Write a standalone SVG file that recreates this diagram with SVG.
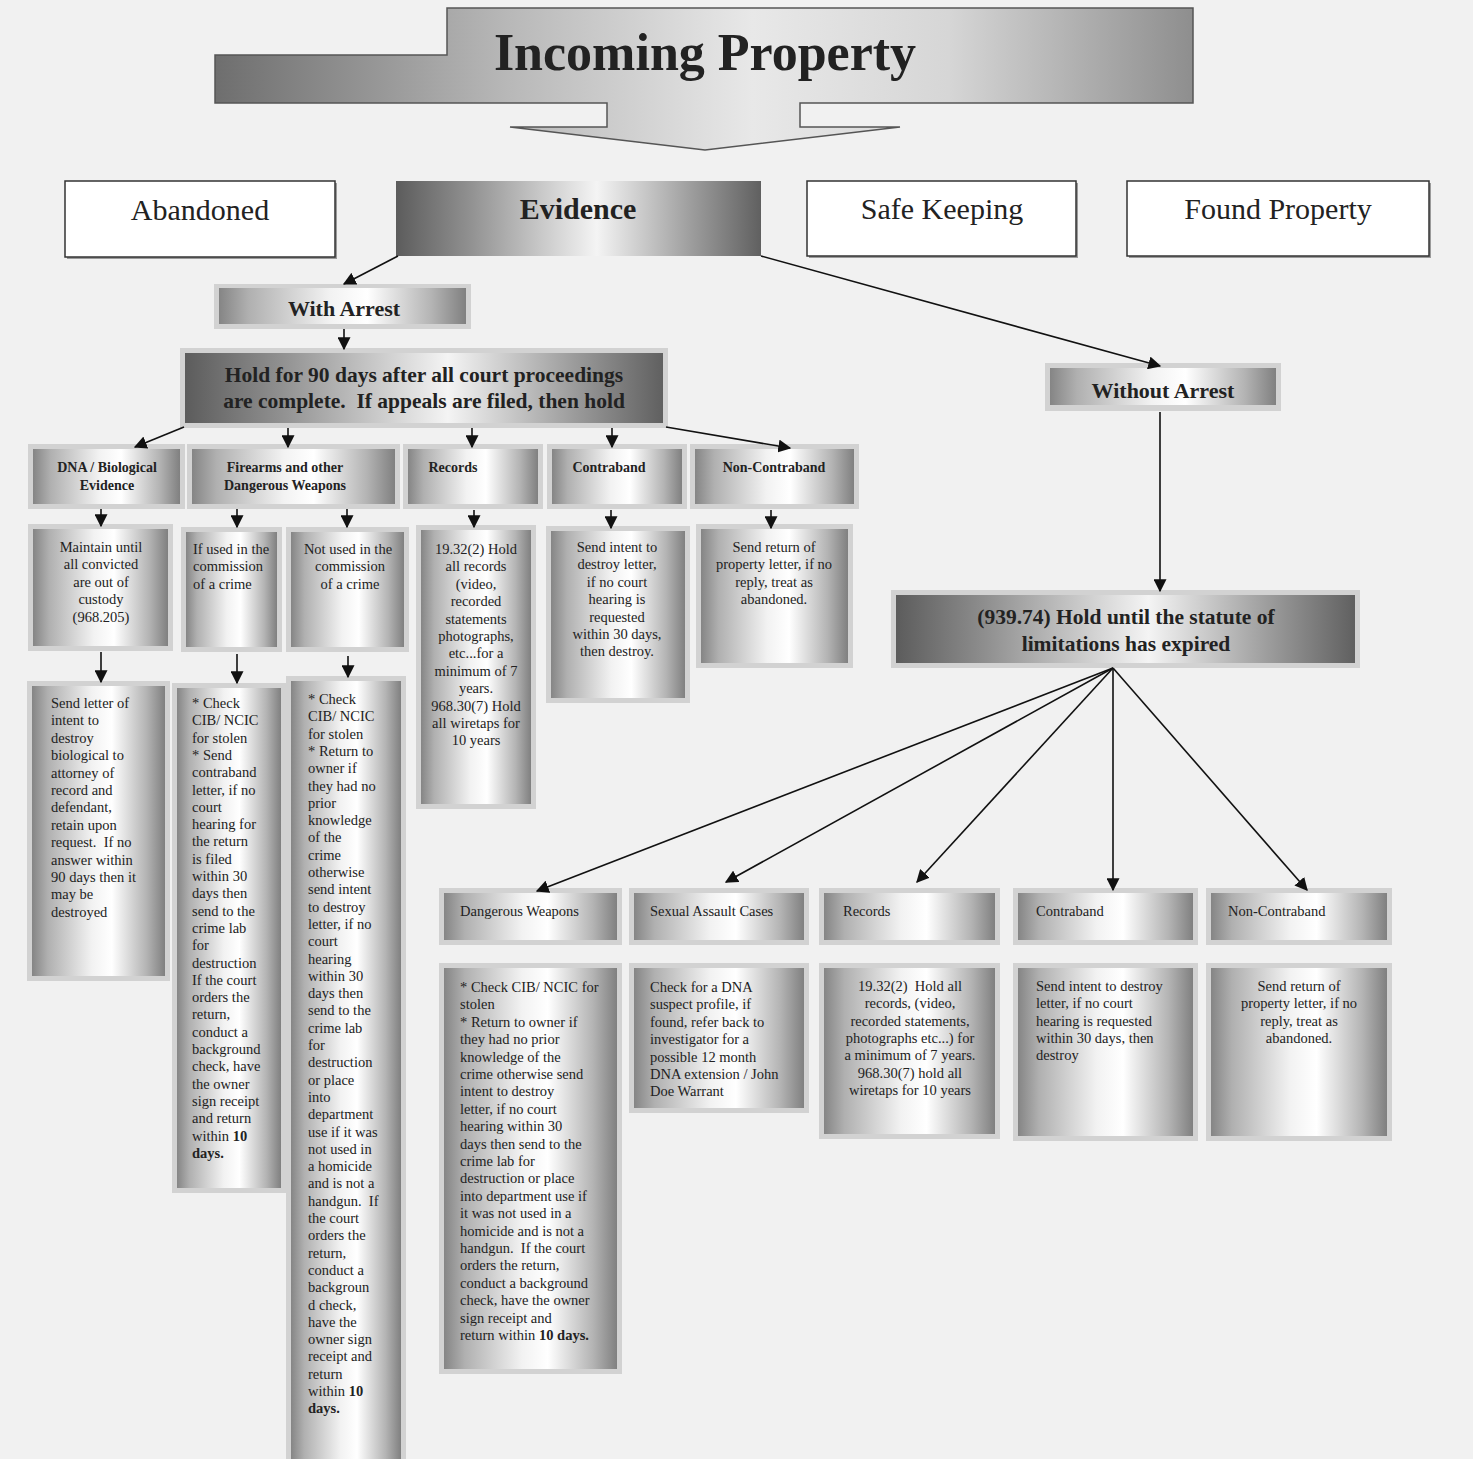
<svg xmlns="http://www.w3.org/2000/svg" width="1473" height="1459" viewBox="0 0 1473 1459">
<defs>
<linearGradient id="gTitle" gradientUnits="userSpaceOnUse" x1="215" y1="0" x2="1193" y2="0">
<stop offset="0" stop-color="#6e6e6e"/><stop offset="0.3" stop-color="#b8b8b8"/><stop offset="0.55" stop-color="#e8e8e8"/><stop offset="0.75" stop-color="#d6d6d6"/><stop offset="1" stop-color="#8e8e8e"/>
</linearGradient>
<linearGradient id="gDark" x1="0" y1="0" x2="1" y2="0">
<stop offset="0" stop-color="#5c5c5c"/><stop offset="0.2" stop-color="#909090"/><stop offset="0.55" stop-color="#f4f4f4"/><stop offset="0.8" stop-color="#a0a0a0"/><stop offset="1" stop-color="#606060"/>
</linearGradient>
<linearGradient id="gBox" x1="0" y1="0" x2="1" y2="0">
<stop offset="0" stop-color="#858585"/><stop offset="0.12" stop-color="#b0b0b0"/><stop offset="0.45" stop-color="#f2f2f2"/><stop offset="0.6" stop-color="#ffffff"/><stop offset="0.86" stop-color="#b4b4b4"/><stop offset="1" stop-color="#808080"/>
</linearGradient>
<marker id="ah" viewBox="0 0 10 10" refX="9" refY="5" markerWidth="13" markerHeight="13" markerUnits="userSpaceOnUse" orient="auto">
<path d="M0,0 L10,5 L0,10 z" fill="#111"/>
</marker>
<style>
.fr{fill:#d2d2d2}
.in{fill:url(#gBox)}
.dk{fill:url(#gDark)}
.wb{fill:#fff;stroke:#333;stroke-width:1.5}
.sh{fill:#9a9a9a}
text{font-family:"Liberation Serif","DejaVu Serif",serif;fill:#222}
.b{font-weight:bold}
.c{text-anchor:middle}
.s{font-size:14.5px}
.cat{font-size:14px;font-weight:bold}
.big{font-size:21.5px;font-weight:bold}
.top{font-size:30px}
.conn line{stroke:#111;stroke-width:1.6;marker-end:url(#ah)}
</style>
</defs>
<rect x="0" y="0" width="1473" height="1459" fill="#f1f1f1"/>

<g id="title">
<polygon points="447,8 1193,8 1193,103 800,103 800,127 900,127 705,150 510,127 607,127 607,103 215,103 215,55 447,55" fill="url(#gTitle)" stroke="#555" stroke-width="1.5"/>
<text x="705" y="70" class="c b" font-size="52">Incoming Property</text>
</g>

<g id="abandoned">
<rect class="sh" x="67" y="183" width="270" height="76"/>
<rect class="wb" x="65" y="181" width="270" height="76"/>
<text x="200" y="220" class="c top">Abandoned</text>
</g>
<g id="evidence">
<rect class="dk" x="396" y="181" width="365" height="75"/>
<text x="578" y="219" class="c b top">Evidence</text>
</g>
<g id="safe-keeping">
<rect class="sh" x="809" y="183" width="269" height="75"/>
<rect class="wb" x="807" y="181" width="269" height="75"/>
<text x="942" y="219" class="c top">Safe Keeping</text>
</g>
<g id="found-property">
<rect class="sh" x="1129" y="183" width="302" height="75"/>
<rect class="wb" x="1127" y="181" width="302" height="75"/>
<text x="1278" y="219" class="c top">Found Property</text>
</g>

<g id="with-arrest">
<rect class="fr" x="214" y="284" width="257" height="45"/>
<rect class="in" x="219" y="288" width="247" height="36"/>
<text x="344" y="316" class="c" font-size="22" font-weight="bold">With Arrest</text>
</g>
<g id="without-arrest">
<rect class="fr" x="1045" y="363" width="236" height="48"/>
<rect class="in" x="1050" y="368" width="226" height="37"/>
<text x="1163" y="398" class="c" font-size="22" font-weight="bold">Without Arrest</text>
</g>

<g id="hold-90">
<rect class="fr" x="180" y="348" width="488" height="80"/>
<rect class="dk" x="185" y="353" width="478" height="70"/>
<text class="c big"><tspan x="424" y="382">Hold for 90 days after all court proceedings</tspan><tspan x="424" y="408">are complete.&#160; If appeals are filed, then hold</tspan></text>
</g>

<g id="hold-939">
<rect class="fr" x="891" y="590" width="469" height="78"/>
<rect class="dk" x="896" y="595" width="459" height="68"/>
<text class="c big"><tspan x="1126" y="624">(939.74) Hold until the statute of</tspan><tspan x="1126" y="651">limitations has expired</tspan></text>
</g>

<g id="cat-dna">
<rect class="fr" x="28" y="444" width="157" height="65"/>
<rect class="in" x="33" y="449" width="147" height="55"/>
<text class="c cat"><tspan x="107" y="472">DNA / Biological</tspan><tspan x="107" y="490">Evidence</tspan></text>
</g>
<g id="cat-firearms">
<rect class="fr" x="187" y="444" width="213" height="65"/>
<rect class="in" x="192" y="449" width="203" height="55"/>
<text class="c cat"><tspan x="285" y="472">Firearms and other</tspan><tspan x="285" y="490">Dangerous Weapons</tspan></text>
</g>
<g id="cat-records">
<rect class="fr" x="403" y="444" width="140" height="65"/>
<rect class="in" x="408" y="449" width="130" height="55"/>
<text x="453" y="472" class="c cat">Records</text>
</g>
<g id="cat-contraband">
<rect class="fr" x="547" y="444" width="140" height="65"/>
<rect class="in" x="552" y="449" width="130" height="55"/>
<text x="609" y="472" class="c cat">Contraband</text>
</g>
<g id="cat-noncontraband">
<rect class="fr" x="690" y="444" width="169" height="65"/>
<rect class="in" x="695" y="449" width="159" height="55"/>
<text x="774" y="472" class="c cat">Non-Contraband</text>
</g>

<g id="dna-maintain">
<rect class="fr" x="28" y="524" width="145" height="127"/>
<rect class="in" x="33" y="529" width="135" height="117"/>
<text class="c s"><tspan x="101" y="552">Maintain until</tspan><tspan x="101" y="569.4">all convicted</tspan><tspan x="101" y="586.8">are out of</tspan><tspan x="101" y="604.2">custody</tspan><tspan x="101" y="621.6">(968.205)</tspan></text>
</g>
<g id="fire-used">
<rect class="fr" x="181" y="527" width="101" height="125"/>
<rect class="in" x="186" y="532" width="91" height="115"/>
<text class="s"><tspan x="193" y="554">If used in the</tspan><tspan x="193" y="571.4">commission</tspan><tspan x="193" y="588.8">of a crime</tspan></text>
</g>
<g id="fire-notused">
<rect class="fr" x="286" y="527" width="123" height="125"/>
<rect class="in" x="291" y="532" width="113" height="115"/>
<text class="c s"><tspan x="348" y="554">Not used in the</tspan><tspan x="350" y="571.4">commission</tspan><tspan x="350" y="588.8">of a crime</tspan></text>
</g>
<g id="records-detail">
<rect class="fr" x="416" y="525" width="120" height="284"/>
<rect class="in" x="421" y="530" width="110" height="274"/>
<text class="c s"><tspan x="476" y="554">19.32(2) Hold</tspan><tspan x="476" y="571.4">all records</tspan><tspan x="476" y="588.8">(video,</tspan><tspan x="476" y="606.2">recorded</tspan><tspan x="476" y="623.6">statements</tspan><tspan x="476" y="641">photographs,</tspan><tspan x="476" y="658.4">etc...for a</tspan><tspan x="476" y="675.8">minimum of 7</tspan><tspan x="476" y="693.2">years.</tspan><tspan x="476" y="710.6">968.30(7) Hold</tspan><tspan x="476" y="728">all wiretaps for</tspan><tspan x="476" y="745.4">10 years</tspan></text>
</g>
<g id="contraband-detail">
<rect class="fr" x="546" y="526" width="144" height="177"/>
<rect class="in" x="551" y="531" width="134" height="167"/>
<text class="c s"><tspan x="617" y="552">Send intent to</tspan><tspan x="617" y="569.4">destroy letter,</tspan><tspan x="617" y="586.8">if no court</tspan><tspan x="617" y="604.2">hearing is</tspan><tspan x="617" y="621.6">requested</tspan><tspan x="617" y="639">within 30 days,</tspan><tspan x="617" y="656.4">then destroy.</tspan></text>
</g>
<g id="noncontraband-detail">
<rect class="fr" x="696" y="524" width="157" height="144"/>
<rect class="in" x="701" y="529" width="147" height="134"/>
<text class="c s"><tspan x="774" y="552">Send return of</tspan><tspan x="774" y="569.4">property letter, if no</tspan><tspan x="774" y="586.8">reply, treat as</tspan><tspan x="774" y="604.2">abandoned.</tspan></text>
</g>

<g id="dna-letter">
<rect class="fr" x="27" y="681" width="143" height="300"/>
<rect class="in" x="32" y="686" width="133" height="290"/>
<text class="s"><tspan x="51" y="708">Send letter of</tspan><tspan x="51" y="725.4">intent to</tspan><tspan x="51" y="742.8">destroy</tspan><tspan x="51" y="760.2">biological to</tspan><tspan x="51" y="777.6">attorney of</tspan><tspan x="51" y="795">record and</tspan><tspan x="51" y="812.4">defendant,</tspan><tspan x="51" y="829.8">retain upon</tspan><tspan x="51" y="847.2">request.&#160; If no</tspan><tspan x="51" y="864.6">answer within</tspan><tspan x="51" y="882">90 days then it</tspan><tspan x="51" y="899.4">may be</tspan><tspan x="51" y="916.8">destroyed</tspan></text>
</g>
<g id="fire-used-steps">
<rect class="fr" x="172" y="683" width="114" height="510"/>
<rect class="in" x="177" y="688" width="104" height="500"/>
<text class="s"><tspan x="192" y="708">* Check</tspan><tspan x="192" y="725.3">CIB/ NCIC</tspan><tspan x="192" y="742.6">for stolen</tspan><tspan x="192" y="759.9">* Send</tspan><tspan x="192" y="777.2">contraband</tspan><tspan x="192" y="794.5">letter, if no</tspan><tspan x="192" y="811.8">court</tspan><tspan x="192" y="829.1">hearing for</tspan><tspan x="192" y="846.4">the return</tspan><tspan x="192" y="863.7">is filed</tspan><tspan x="192" y="881">within 30</tspan><tspan x="192" y="898.3">days then</tspan><tspan x="192" y="915.6">send to the</tspan><tspan x="192" y="932.9">crime lab</tspan><tspan x="192" y="950.2">for</tspan><tspan x="192" y="967.5">destruction</tspan><tspan x="192" y="984.8">If the court</tspan><tspan x="192" y="1002.1">orders the</tspan><tspan x="192" y="1019.4">return,</tspan><tspan x="192" y="1036.7">conduct a</tspan><tspan x="192" y="1054">background</tspan><tspan x="192" y="1071.3">check, have</tspan><tspan x="192" y="1088.6">the owner</tspan><tspan x="192" y="1105.9">sign receipt</tspan><tspan x="192" y="1123.2">and return</tspan><tspan x="192" y="1140.5">within <tspan class="b">10</tspan></tspan><tspan x="192" y="1157.8" class="b">days.</tspan></text>
</g>
<g id="fire-notused-steps">
<rect class="fr" x="286" y="676" width="120" height="790"/>
<rect class="in" x="291" y="681" width="110" height="790"/>
<text class="s"><tspan x="308" y="704">* Check</tspan><tspan x="308" y="721.3">CIB/ NCIC</tspan><tspan x="308" y="738.6">for stolen</tspan><tspan x="308" y="755.9">* Return to</tspan><tspan x="308" y="773.2">owner if</tspan><tspan x="308" y="790.5">they had no</tspan><tspan x="308" y="807.8">prior</tspan><tspan x="308" y="825.1">knowledge</tspan><tspan x="308" y="842.4">of the</tspan><tspan x="308" y="859.7">crime</tspan><tspan x="308" y="877">otherwise</tspan><tspan x="308" y="894.3">send intent</tspan><tspan x="308" y="911.6">to destroy</tspan><tspan x="308" y="928.9">letter, if no</tspan><tspan x="308" y="946.2">court</tspan><tspan x="308" y="963.5">hearing</tspan><tspan x="308" y="980.8">within 30</tspan><tspan x="308" y="998.1">days then</tspan><tspan x="308" y="1015.4">send to the</tspan><tspan x="308" y="1032.7">crime lab</tspan><tspan x="308" y="1050">for</tspan><tspan x="308" y="1067.3">destruction</tspan><tspan x="308" y="1084.6">or place</tspan><tspan x="308" y="1101.9">into</tspan><tspan x="308" y="1119.2">department</tspan><tspan x="308" y="1136.5">use if it was</tspan><tspan x="308" y="1153.8">not used in</tspan><tspan x="308" y="1171.1">a homicide</tspan><tspan x="308" y="1188.4">and is not a</tspan><tspan x="308" y="1205.7">handgun.&#160; If</tspan><tspan x="308" y="1223">the court</tspan><tspan x="308" y="1240.3">orders the</tspan><tspan x="308" y="1257.6">return,</tspan><tspan x="308" y="1274.9">conduct a</tspan><tspan x="308" y="1292.2">backgroun</tspan><tspan x="308" y="1309.5">d check,</tspan><tspan x="308" y="1326.8">have the</tspan><tspan x="308" y="1344.1">owner sign</tspan><tspan x="308" y="1361.4">receipt and</tspan><tspan x="308" y="1378.7">return</tspan><tspan x="308" y="1396">within <tspan class="b">10</tspan></tspan><tspan x="308" y="1413.3" class="b">days.</tspan></text>
</g>

<g id="w-cat-weapons">
<rect class="fr" x="439" y="888" width="183" height="57"/>
<rect class="in" x="444" y="893" width="173" height="47"/>
<text x="460" y="916" class="s">Dangerous Weapons</text>
</g>
<g id="w-cat-sexual">
<rect class="fr" x="629" y="888" width="180" height="57"/>
<rect class="in" x="634" y="893" width="170" height="47"/>
<text x="650" y="916" class="s">Sexual Assault Cases</text>
</g>
<g id="w-cat-records">
<rect class="fr" x="819" y="888" width="181" height="57"/>
<rect class="in" x="824" y="893" width="171" height="47"/>
<text x="843" y="916" class="s">Records</text>
</g>
<g id="w-cat-contraband">
<rect class="fr" x="1013" y="888" width="185" height="57"/>
<rect class="in" x="1018" y="893" width="175" height="47"/>
<text x="1036" y="916" class="s">Contraband</text>
</g>
<g id="w-cat-noncontraband">
<rect class="fr" x="1206" y="888" width="186" height="57"/>
<rect class="in" x="1211" y="893" width="176" height="47"/>
<text x="1228" y="916" class="s">Non-Contraband</text>
</g>

<g id="w-weapons-detail">
<rect class="fr" x="439" y="963" width="183" height="411"/>
<rect class="in" x="444" y="968" width="173" height="401"/>
<text class="s"><tspan x="460" y="992">* Check CIB/ NCIC for</tspan><tspan x="460" y="1009.4">stolen</tspan><tspan x="460" y="1026.8">* Return to owner if</tspan><tspan x="460" y="1044.2">they had no prior</tspan><tspan x="460" y="1061.6">knowledge of the</tspan><tspan x="460" y="1079">crime otherwise send</tspan><tspan x="460" y="1096.4">intent to destroy</tspan><tspan x="460" y="1113.8">letter, if no court</tspan><tspan x="460" y="1131.2">hearing within 30</tspan><tspan x="460" y="1148.6">days then send to the</tspan><tspan x="460" y="1166">crime lab for</tspan><tspan x="460" y="1183.4">destruction or place</tspan><tspan x="460" y="1200.8">into department use if</tspan><tspan x="460" y="1218.2">it was not used in a</tspan><tspan x="460" y="1235.6">homicide and is not a</tspan><tspan x="460" y="1253">handgun.&#160; If the court</tspan><tspan x="460" y="1270.4">orders the return,</tspan><tspan x="460" y="1287.8">conduct a background</tspan><tspan x="460" y="1305.2">check, have the owner</tspan><tspan x="460" y="1322.6">sign receipt and</tspan><tspan x="460" y="1340">return within <tspan class="b">10 days.</tspan></tspan></text>
</g>
<g id="w-sexual-detail">
<rect class="fr" x="629" y="963" width="180" height="150"/>
<rect class="in" x="634" y="968" width="170" height="140"/>
<text class="s"><tspan x="650" y="992">Check for a DNA</tspan><tspan x="650" y="1009.4">suspect profile, if</tspan><tspan x="650" y="1026.8">found, refer back to</tspan><tspan x="650" y="1044.2">investigator for a</tspan><tspan x="650" y="1061.6">possible 12 month</tspan><tspan x="650" y="1079">DNA extension / John</tspan><tspan x="650" y="1096.4">Doe Warrant</tspan></text>
</g>
<g id="w-records-detail">
<rect class="fr" x="819" y="963" width="181" height="176"/>
<rect class="in" x="824" y="968" width="171" height="166"/>
<text class="c s"><tspan x="910" y="991">19.32(2)&#160; Hold all</tspan><tspan x="910" y="1008.3">records, (video,</tspan><tspan x="910" y="1025.6">recorded statements,</tspan><tspan x="910" y="1042.9">photographs etc...) for</tspan><tspan x="910" y="1060.2">a minimum of 7 years.</tspan><tspan x="910" y="1077.5">968.30(7) hold all</tspan><tspan x="910" y="1094.8">wiretaps for 10 years</tspan></text>
</g>
<g id="w-contraband-detail">
<rect class="fr" x="1013" y="963" width="185" height="178"/>
<rect class="in" x="1018" y="968" width="175" height="168"/>
<text class="s"><tspan x="1036" y="991">Send intent to destroy</tspan><tspan x="1036" y="1008.3">letter, if no court</tspan><tspan x="1036" y="1025.6">hearing is requested</tspan><tspan x="1036" y="1042.9">within 30 days, then</tspan><tspan x="1036" y="1060.2">destroy</tspan></text>
</g>
<g id="w-noncontraband-detail">
<rect class="fr" x="1206" y="963" width="186" height="178"/>
<rect class="in" x="1211" y="968" width="176" height="168"/>
<text class="c s"><tspan x="1299" y="991">Send return of</tspan><tspan x="1299" y="1008.3">property letter, if no</tspan><tspan x="1299" y="1025.6">reply, treat as</tspan><tspan x="1299" y="1042.9">abandoned.</tspan></text>
</g>

<g id="connectors" class="conn">
<line x1="398" y1="256" x2="344" y2="284"/>
<line x1="761" y1="256" x2="1160" y2="366"/>
<line x1="344" y1="329" x2="344" y2="349"/>
<line x1="184" y1="427" x2="135" y2="447"/>
<line x1="288" y1="428" x2="288" y2="447"/>
<line x1="472" y1="428" x2="472" y2="447"/>
<line x1="612" y1="428" x2="612" y2="447"/>
<line x1="666" y1="427" x2="790" y2="448"/>
<line x1="101" y1="509" x2="101" y2="526"/>
<line x1="237" y1="509" x2="237" y2="527"/>
<line x1="347" y1="509" x2="347" y2="527"/>
<line x1="474" y1="510" x2="474" y2="527"/>
<line x1="611" y1="510" x2="611" y2="528"/>
<line x1="771" y1="510" x2="771" y2="528"/>
<line x1="101" y1="652" x2="101" y2="682"/>
<line x1="237" y1="654" x2="237" y2="683"/>
<line x1="348" y1="656" x2="348" y2="677"/>
<line x1="1160" y1="412" x2="1160" y2="591"/>
<line x1="1113" y1="668" x2="537" y2="891"/>
<line x1="1113" y1="668" x2="726" y2="882"/>
<line x1="1113" y1="668" x2="917" y2="882"/>
<line x1="1113" y1="668" x2="1113" y2="890"/>
<line x1="1113" y1="668" x2="1307" y2="890"/>
</g>
</svg>
